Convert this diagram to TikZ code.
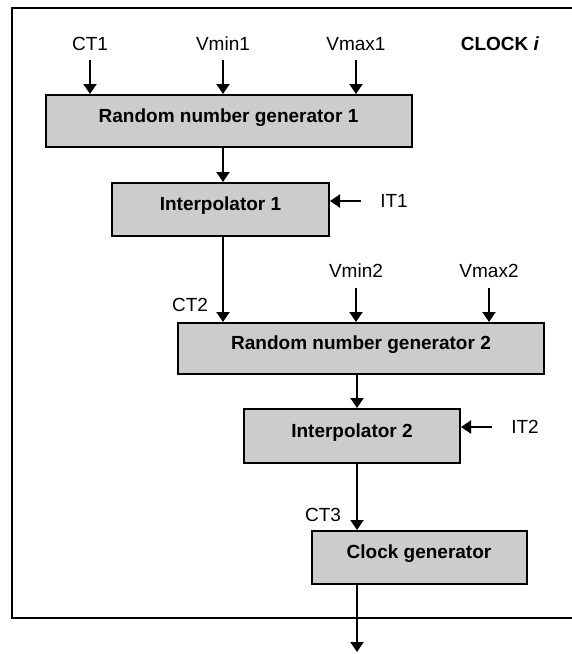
\documentclass[tikz,border=0pt]{standalone}
\usepackage{fontspec}
\setmainfont{Liberation Sans}
\usetikzlibrary{arrows.meta}
\begin{document}
\begin{tikzpicture}
  [
    x=1pt, y=-1pt,
    font=\fontsize{19}{22}\selectfont,
    blk/.style={draw=black, line width=2pt, fill=gray!40, inner sep=0pt,
      text height=13pt, text depth=11pt, font=\fontsize{19}{22}\selectfont\bfseries},
    lbl/.style={inner sep=0pt, text height=13pt, text depth=0pt},
    ld/.style={draw=black, line width=2pt, -{Triangle[length=10pt,width=13pt]}},
    ind/.style={ld, shorten <=10pt},
    sid/.style={ld, shorten <=19pt}
  ]
  \useasboundingbox (0,0) rectangle (572,654);
  \draw [line width=2pt] (572,8) -- (12,8) -- (12,618) -- (572,618);

  \node (rng1) at (228.5,121) [blk, minimum width=366pt, minimum height=52pt] {Random number generator 1};
  \node (ip1) at (220.5,209.5) [blk, minimum width=217pt, minimum height=53pt] {Interpolator 1};
  \node (rng2) at (361,348.5) [blk, minimum width=366pt, minimum height=51pt] {Random number generator 2};
  \node (ip2) at (352,436) [blk, minimum width=216pt, minimum height=54pt] {Interpolator 2};
  \node (clk) at (419,557.5) [blk, minimum width=215pt, minimum height=53pt] {Clock generator};

  \node (ct1) at (90,43.5) [lbl] {CT1};
  \node (vmin1) at (223,43.5) [lbl] {Vmin1};
  \node (vmax1) at (356,43.5) [lbl] {Vmax1};
  \node (clock) at (500,43.5) [lbl] {\bfseries CLOCK \textit{i}};
  \node (it1) at (394,201) [lbl] {IT1};
  \node (vmin2) at (356,271) [lbl] {Vmin2};
  \node (vmax2) at (489,271) [lbl] {Vmax2};
  \node (ct2) at (190,305) [lbl] {CT2};
  \node (it2) at (525,427) [lbl] {IT2};
  \node (ct3) at (323,515) [lbl] {CT3};

  \coordinate (c1) at (223,0);
  \coordinate (c2) at (357,0);
  \coordinate (out) at (357,652);

  \draw [ind] (ct1.south) -- (ct1.south |- rng1.north);
  \draw [ind] (vmin1.south) -- (vmin1.south |- rng1.north);
  \draw [ind] (vmax1.south) -- (vmax1.south |- rng1.north);
  \draw [ld] (rng1.south -| c1) -- (ip1.north -| c1);
  \draw [sid] (it1.west) -- (it1.west -| ip1.east);
  \draw [ld] (ip1.south -| c1) -- (rng2.north -| c1);
  \draw [ind] (vmin2.south) -- (vmin2.south |- rng2.north);
  \draw [ind] (vmax2.south) -- (vmax2.south |- rng2.north);
  \draw [ld] (rng2.south -| c2) -- (ip2.north -| c2);
  \draw [sid] (it2.west) -- (it2.west -| ip2.east);
  \draw [ld] (ip2.south -| c2) -- (clk.north -| c2);
  \draw [ld] (clk.south -| out) -- (out);
\end{tikzpicture}
\end{document}
